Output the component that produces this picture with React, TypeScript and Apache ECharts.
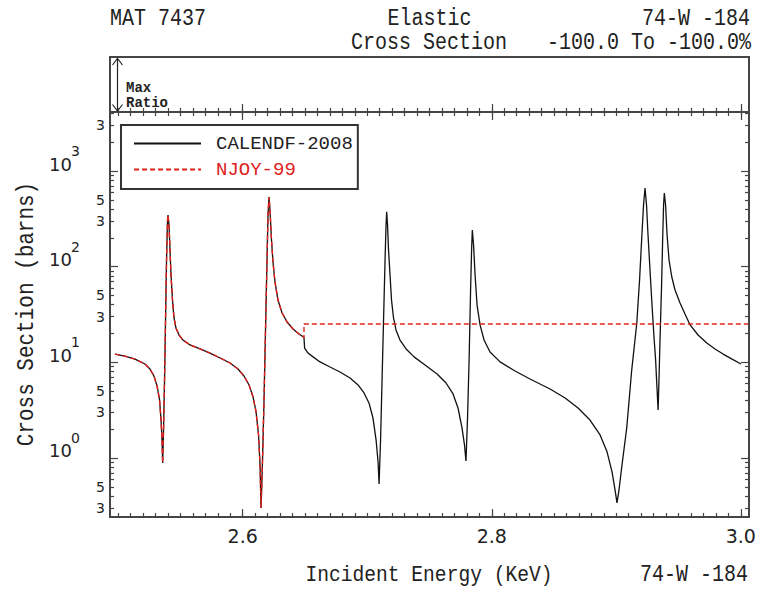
import React, { useEffect, useRef } from 'react';
import * as echarts from 'echarts';

// Axis ranges (keV, barns)
const X_MIN = 2.4934;
const X_MAX = 3.0066;
const Y_MIN = 0.2415;
const Y_MAX = 4140;

// Tick marks / labels
const X_MAJOR_TICKS = [2.6, 2.8, 3.0];
const X_MINOR_TICKS: number[] = [];
for (let i = 250; i <= 300; i++) X_MINOR_TICKS.push(i / 100);
const Y_MINOR_TICK_VALUES = [
  0.3, 0.4, 0.5, 0.6, 0.7, 0.8, 0.9,
  2, 3, 4, 5, 6, 7, 8, 9,
  20, 30, 40, 50, 60, 70, 80, 90,
  200, 300, 400, 500, 600, 700, 800, 900,
  2000, 3000, 4000,
];
const Y_MINOR_LABEL_VALUES = [0.3, 0.5, 3, 5, 30, 50, 300, 500, 3000];
const Y_MAJOR_EXPONENTS = [0, 1, 2, 3];

// Shared part of both evaluations (identical up to ~2.649 keV)
const sharedLow: [number, number][] = [
  [2.4974, 12.2], [2.5054, 11.6], [2.5135, 10.8], [2.5215, 9.6], [2.5255, 8.5],
  [2.5287, 7.2], [2.5312, 5.66], [2.5332, 4.04], [2.5344, 2.49], [2.5352, 1.54],
  [2.5357, 0.887], [2.5364, 1.96], [2.5372, 6.53], [2.538, 27.7], [2.5388, 117],
  [2.5396, 307], [2.54, 347], [2.5408, 272], [2.5416, 149], [2.5424, 81.8],
  [2.5436, 44.8], [2.5448, 29.1], [2.5464, 22.8], [2.5488, 19.3], [2.552, 17.1],
  [2.5577, 15.2], [2.5657, 13.8], [2.5737, 12.5], [2.5818, 11.1], [2.5898, 9.84],
  [2.5962, 8.51], [2.601, 7.2], [2.6051, 5.8], [2.6083, 4.34], [2.6107, 3.03],
  [2.6127, 1.74], [2.6139, 0.845], [2.6147, 0.30], [2.6159, 0.953], [2.6171, 4.04],
  [2.6183, 21.8], [2.6195, 117], [2.6203, 347], [2.6211, 535], [2.6219, 391],
  [2.6231, 190], [2.6243, 112], [2.6259, 69.2], [2.6283, 44.8], [2.6316, 32.8],
  [2.6356, 26.4], [2.6404, 22.3], [2.6452, 19.8], [2.6488, 18.4],
];

// CALENDF-2008 above 2.649 keV
const calendfHigh: [number, number][] = [
  [2.6492, 18.0], [2.6497, 14.1], [2.6524, 12.5], [2.6565, 11.4], [2.6621, 10.1],
  [2.6701, 8.94], [2.6781, 7.92], [2.6862, 6.86], [2.6926, 5.8], [2.6974, 4.78],
  [2.7014, 3.76], [2.7046, 2.62], [2.7071, 1.54], [2.7087, 0.908], [2.7095, 0.535],
  [2.7107, 1.54], [2.7119, 6.53], [2.7131, 27.7], [2.7143, 117], [2.7151, 272],
  [2.7156, 375], [2.7163, 272], [2.7171, 149], [2.7183, 81.8], [2.7195, 44.8],
  [2.7211, 29.1], [2.7231, 21.8], [2.7263, 17.1], [2.7312, 13.8], [2.7376, 11.4],
  [2.7464, 9.38], [2.7561, 7.55], [2.7633, 6.08], [2.7689, 4.67], [2.7729, 3.33],
  [2.7761, 2.06], [2.7781, 1.37], [2.7793, 0.93], [2.7805, 2.49], [2.7818, 10.6],
  [2.783, 57], [2.7838, 149], [2.7844, 242], [2.7854, 168], [2.7866, 81.8],
  [2.7882, 39.7], [2.7906, 24.6], [2.7938, 17.1], [2.7986, 12.8], [2.8067, 10.1],
  [2.8187, 8.11], [2.8307, 6.69], [2.8468, 5.26], [2.8589, 4.24], [2.8693, 3.33],
  [2.8789, 2.49], [2.887, 1.74], [2.8926, 1.16], [2.8966, 0.714], [2.899, 0.463],
  [2.9006, 0.339], [2.9022, 0.463], [2.9046, 0.845], [2.9084, 2.06], [2.9124, 8.3],
  [2.9165, 25.8], [2.9187, 72.6], [2.9205, 204], [2.9219, 441], [2.9231, 664],
  [2.9243, 441], [2.9255, 214], [2.9271, 92.3], [2.9287, 39.7], [2.9303, 18.4],
  [2.9316, 10.6], [2.9325, 6.08], [2.9336, 3.17], [2.9344, 7.37], [2.9352, 18.4],
  [2.9364, 64.3], [2.9373, 204], [2.938, 441], [2.9386, 589], [2.9396, 441],
  [2.9408, 214], [2.9424, 117], [2.9446, 78], [2.9472, 57], [2.9512, 41.7],
  [2.9552, 32], [2.9593, 24.6], [2.9657, 19.3], [2.9727, 15.9], [2.9793, 13.8],
  [2.9858, 12.2], [2.993, 10.8], [3.0002, 9.6],
];

// NJOY-99 above 2.649 keV (jump, then flat)
const njoyHigh: [number, number][] = [
  [2.6492, 18.0], [2.6492, 25.2], [3.0058, 25.2],
];

const calendf = [...sharedLow, ...calendfHigh];
const njoy = [...sharedLow, ...njoyHigh];

const MONO = '"Liberation Mono", "DejaVu Sans Mono", monospace';
const SANS = '"DejaVu Sans", "Liberation Sans", sans-serif';
const AX = '#454545';
const TALL = 1.15;

function xTickAxis(gridIndex: number, position: string, ticks: number[], length: number, labels?: number[]) {
  return {
    type: 'value', gridIndex, position, min: X_MIN, max: X_MAX,
    axisLine: { show: false, onZero: false },
    splitLine: { show: false },
    axisTick: { show: true, inside: true, length, customValues: ticks, lineStyle: { color: AX, width: 1.2 } },
    axisLabel: labels
      ? { show: true, customValues: labels, formatter: (v: number) => v.toFixed(1), margin: 9, fontFamily: SANS, fontSize: 19, color: '#222' }
      : { show: false },
  };
}

function yTickAxis(position: string, ticks: number[], length: number, label?: any) {
  return {
    type: 'value', gridIndex: 0, position, min: Math.log10(Y_MIN), max: Math.log10(Y_MAX),
    axisLine: { show: false, onZero: false },
    splitLine: { show: false },
    axisTick: { show: true, inside: true, length, customValues: ticks, lineStyle: { color: AX, width: 1.2 } },
    axisLabel: label || { show: false },
  };
}

function monoText(text: string, x: number, y: number, align: string, size: number, extra: any = {}) {
  return {
    type: 'text', x, y, scaleY: TALL, ...extra,
    style: { text, font: `${size}px ${MONO}`, fill: '#222', textAlign: align, textVerticalAlign: 'middle' },
  };
}

export default function App() {
  const ref = useRef<HTMLDivElement>(null);
  useEffect(() => {
    if (!ref.current) return;
    const chart = echarts.init(ref.current, undefined, { renderer: 'svg' });
    const yMinorLog = Y_MINOR_TICK_VALUES.map((v) => Math.log10(v));
    const yMinorLabelLog = Y_MINOR_LABEL_VALUES.map((v) => Math.log10(v));
    const option: any = {
      animation: false,
      backgroundColor: '#ffffff',
      grid: [
        { left: 110, right: 12, top: 112, bottom: 76, show: true, borderColor: AX, borderWidth: 2, containLabel: false, outerBoundsMode: 'none' },
        { left: 110, right: 12, top: 57, height: 55, show: true, borderColor: AX, borderWidth: 2, containLabel: false, outerBoundsMode: 'none' },
      ],
      xAxis: [
        xTickAxis(0, 'bottom', X_MINOR_TICKS, 4, X_MAJOR_TICKS),
        xTickAxis(0, 'bottom', X_MAJOR_TICKS, 8),
        xTickAxis(0, 'top', X_MINOR_TICKS, 4),
        xTickAxis(0, 'top', X_MAJOR_TICKS, 8),
        xTickAxis(1, 'bottom', X_MINOR_TICKS, 4),
        xTickAxis(1, 'bottom', X_MAJOR_TICKS, 8),
      ],
      yAxis: [
        {
          type: 'log', logBase: 10, gridIndex: 0, min: Y_MIN, max: Y_MAX, show: false,
          axisLine: { show: false, onZero: false }, splitLine: { show: false },
        },
        yTickAxis('left', yMinorLog, 4, {
          show: true, customValues: yMinorLabelLog, margin: 5,
          formatter: (v: number) => String(Math.round(Math.pow(10, v - Math.floor(v + 1e-9)))),
          fontFamily: SANS, fontSize: 14, color: '#222', verticalAlign: 'middle', padding: [0, 0, 5, 0],
        }),
        yTickAxis('left', Y_MAJOR_EXPONENTS, 8, {
          show: true, customValues: Y_MAJOR_EXPONENTS, margin: 30,
          formatter: (v: number) => `{sup|${v}}\n{base|10}`,
          verticalAlign: 'bottom', align: 'right', color: '#222',
          rich: {
            sup: { fontFamily: SANS, fontSize: 14, lineHeight: 12, color: '#222' },
            base: { fontFamily: SANS, fontSize: 18, lineHeight: 14, color: '#222', padding: [0, 8, 0, 0] },
          },
        }),
        yTickAxis('right', yMinorLog, 4),
        yTickAxis('right', Y_MAJOR_EXPONENTS, 8),
        { type: 'value', gridIndex: 1, show: false, min: 0, max: 1 },
      ],
      legend: {
        orient: 'vertical', left: 121, top: 125,
        itemWidth: 67, itemHeight: 14, itemGap: 7,
        padding: [9, 5, 10, 12],
        borderColor: '#333', borderWidth: 2, backgroundColor: '#fff',
        itemStyle: { color: 'transparent', borderColor: 'transparent', borderWidth: 0, opacity: 0 },
        textStyle: { fontFamily: MONO, fontSize: 19, lineHeight: 14, padding: [0, 0, 0, 10], color: '#222' },
        data: [
          { name: 'CALENDF-2008', textStyle: { color: '#222' } },
          { name: 'NJOY-99', textStyle: { color: '#e0201c' } },
        ],
      },
      series: [
        {
          name: 'CALENDF-2008', type: 'line', xAxisIndex: 0, yAxisIndex: 0,
          data: calendf, showSymbol: false, symbol: 'none',
          lineStyle: { color: '#111', width: 1.3 }, itemStyle: { color: '#111' },
        },
        {
          name: 'NJOY-99', type: 'line', xAxisIndex: 0, yAxisIndex: 0,
          data: njoy, showSymbol: false, symbol: 'none',
          lineStyle: { color: '#e0201c', width: 1.4, type: [5, 3] }, itemStyle: { color: '#e0201c' },
        },
      ],
      graphic: {
        elements: [
          monoText('MAT 7437', 110, 19, 'left', 20),
          monoText('Elastic', 429.5, 19, 'center', 20),
          monoText('74-W -184', 750, 19, 'right', 20),
          monoText('Cross Section', 351, 43, 'left', 20),
          monoText('-100.0 To -100.0%', 751, 43, 'right', 20),
          { type: 'text', x: 126, y: 88, style: { text: 'Max', font: `bold 14px ${MONO}`, fill: '#222', textAlign: 'left', textVerticalAlign: 'middle' } },
          { type: 'text', x: 126, y: 103, style: { text: 'Ratio', font: `bold 14px ${MONO}`, fill: '#222', textAlign: 'left', textVerticalAlign: 'middle' } },
          { type: 'line', shape: { x1: 117.5, y1: 58.5, x2: 117.5, y2: 111 }, style: { stroke: '#222', lineWidth: 1.2 } },
          { type: 'polyline', shape: { points: [[112.5, 65], [117.5, 58.5], [122.5, 65]] }, style: { stroke: '#222', lineWidth: 1.2, fill: 'none' } },
          { type: 'polyline', shape: { points: [[112.5, 104.5], [117.5, 111], [122.5, 104.5]] }, style: { stroke: '#222', lineWidth: 1.2, fill: 'none' } },
          monoText('Cross Section (barns)', 27, 314, 'center', 21, { rotation: Math.PI / 2 }),
          monoText('Incident Energy (KeV)', 429, 575, 'center', 19.6),
          monoText('74-W -184', 748, 575, 'right', 20),
        ],
      },
    };
    chart.setOption(option);
    return () => chart.dispose();
  }, []);
  return <div ref={ref} style={{ position: 'absolute', left: 0, top: 0, width: 761, height: 593, background: '#fff' }} />;
}
